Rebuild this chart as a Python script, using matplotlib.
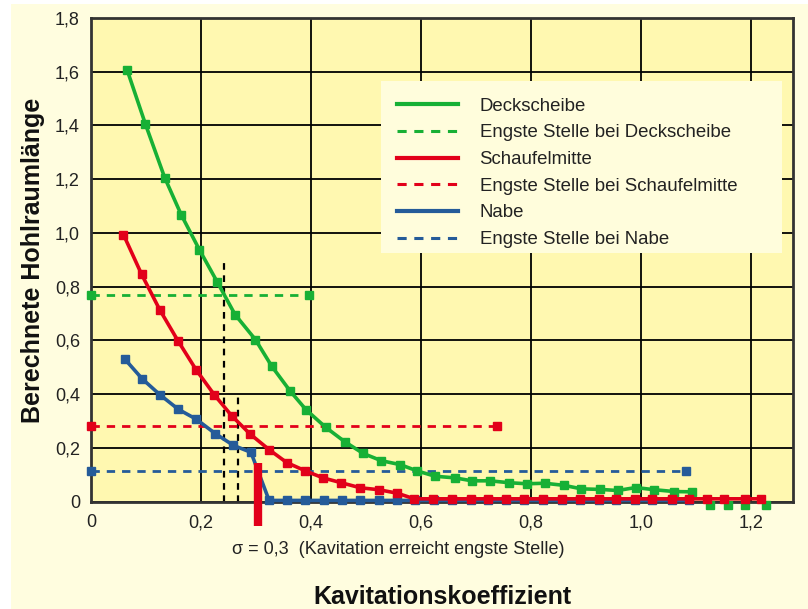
import matplotlib
matplotlib.use('Agg')
import matplotlib.pyplot as plt
from matplotlib.patches import Rectangle

# Deckscheibe (shroud)
deck_x = [0.066, 0.099, 0.134, 0.164, 0.197, 0.230, 0.262, 0.299, 0.329, 0.362,
          0.391, 0.427, 0.462, 0.495, 0.528, 0.563, 0.593, 0.626, 0.662, 0.693,
          0.726, 0.760, 0.793, 0.825, 0.861, 0.892, 0.926, 0.958, 0.991, 1.024,
          1.061, 1.093]
deck_y = [1.605, 1.405, 1.206, 1.068, 0.938, 0.816, 0.696, 0.603, 0.503, 0.412,
          0.342, 0.276, 0.222, 0.179, 0.152, 0.137, 0.114, 0.094, 0.088, 0.077,
          0.077, 0.070, 0.066, 0.068, 0.060, 0.047, 0.045, 0.041, 0.052, 0.044,
          0.037, 0.036]
# points beyond the end of the green curve
deck_tail_x = [1.126, 1.159, 1.190, 1.227]
deck_tail_y = [-0.012, -0.012, -0.012, -0.012]

# Schaufelmitte (blade middle)
mitte_x = [0.059, 0.092, 0.125, 0.158, 0.191, 0.224, 0.256, 0.289, 0.324, 0.356,
           0.390, 0.422, 0.455, 0.490, 0.523, 0.557, 0.588, 0.622, 0.656, 0.692,
           0.722, 0.755, 0.788, 0.823, 0.856, 0.889, 0.925, 0.955, 0.989, 1.021,
           1.057, 1.087, 1.120, 1.151, 1.189, 1.219]
mitte_y = [0.994, 0.846, 0.714, 0.599, 0.491, 0.398, 0.319, 0.252, 0.193, 0.145,
           0.114, 0.088, 0.070, 0.051, 0.044, 0.031, 0.010, 0.010, 0.010, 0.010,
           0.010, 0.010, 0.010, 0.010, 0.010, 0.010, 0.010, 0.010, 0.010, 0.010,
           0.010, 0.010, 0.010, 0.010, 0.010, 0.010]

# Nabe (hub)
nabe_x = [0.062, 0.093, 0.125, 0.159, 0.191, 0.226, 0.259, 0.291, 0.324, 0.357,
          0.390, 0.424, 0.456, 0.490, 0.523, 0.556, 0.590, 0.624, 0.656, 0.692,
          0.722, 0.755, 0.788, 0.823, 0.856, 0.889, 0.925, 0.955, 0.989, 1.021,
          1.057, 1.087]
nabe_y = [0.529, 0.457, 0.398, 0.343, 0.307, 0.253, 0.209, 0.183, 0.004, 0.004,
          0.004, 0.004, 0.004, 0.004, 0.004, 0.004, 0.004, 0.004, 0.004, 0.004,
          0.004, 0.004, 0.004, 0.004, 0.004, 0.004, 0.004, 0.004, 0.004, 0.004,
          0.004, 0.004]

# narrowest section levels (start/end, level)
engste_deck = ([0.0, 0.397], 0.770)
engste_mitte = ([0.0, 0.739], 0.281)
engste_nabe = ([0.0, 1.083], 0.114)

# black dashed helper verticals (x, height)
helper_x = [0.242, 0.267]
helper_top = [0.892, 0.407]
sigma_mark = 0.304

x_ticks = [0, 0.2, 0.4, 0.6, 0.8, 1.0, 1.2]
y_ticks = [0, 0.2, 0.4, 0.6, 0.8, 1.0, 1.2, 1.4, 1.6, 1.8]

green = '#17b035'
red = '#e2001a'
blue = '#255b99'

plt.rcParams['font.family'] = ['Liberation Sans', 'DejaVu Sans']

fig = plt.figure(figsize=(8.08, 6.09), dpi=100, facecolor='white')
fig.patches.append(Rectangle((11 / 808, 0), 1, 1 - 4 / 609, transform=fig.transFigure,
                             facecolor='#fffddf', edgecolor='none', zorder=-10))
ax = fig.add_axes([91 / 808, 1 - 501.5 / 609, (793 - 91) / 808, (501.5 - 18) / 609])
ax.set_facecolor('#fff8b0')

ax.set_xlim(0, 1.277)
ax.set_ylim(0, 1.8)
ax.set_xticks(x_ticks)
ax.set_yticks(y_ticks)
ax.set_xticklabels(['0' if v == 0 else f'{v:.1f}'.replace('.', ',') for v in x_ticks], fontsize=13)
ax.set_yticklabels(['0' if v == 0 else f'{v:.1f}'.replace('.', ',') for v in y_ticks], fontsize=13)
ax.tick_params(length=0, colors='#222222')
ax.tick_params(axis='x', pad=9)
ax.tick_params(axis='y', pad=8)
ax.grid(True, color='black', linewidth=1.3)
ax.set_axisbelow(True)
for s in ax.spines.values():
    s.set_color('#333333')
    s.set_linewidth(2)

ms = 6.3
# helpers
for hx, ht in zip(helper_x, helper_top):
    ax.plot([hx, hx], [0, ht], color='black', linestyle=(0, (3, 2.5)), linewidth=1.6, zorder=2)
ax.plot([sigma_mark, sigma_mark], [0.144, -0.093], color=red, linewidth=6,
        solid_capstyle='butt', clip_on=False, zorder=6)

# dashed narrowest-section lines
for (xs, lev), c in zip([engste_deck, engste_mitte, engste_nabe], [green, red, blue]):
    ax.plot(xs, [lev, lev], color=c, linestyle=(0, (3, 2.5)), linewidth=2,
            marker='s', markersize=ms, clip_on=False, zorder=3)

ax.plot(nabe_x, nabe_y, color=blue, linewidth=2.6, marker='s', markersize=ms,
        clip_on=False, zorder=4)
ax.plot(deck_x, deck_y, color=green, linewidth=2.6, marker='s', markersize=ms,
        clip_on=False, zorder=4)
ax.plot(deck_tail_x, deck_tail_y, color=green, linestyle='none', marker='s',
        markersize=ms, clip_on=False, zorder=4)
ax.plot(mitte_x, mitte_y, color=red, linewidth=2.6, marker='s', markersize=ms,
        clip_on=False, zorder=5)

# legend box
ax.add_patch(Rectangle((0.4131, 0.514), 0.9843 - 0.4131, 0.8697 - 0.514, transform=ax.transAxes,
                       facecolor='#fffddc', edgecolor='none', zorder=6.5))
handles = [
    plt.Line2D([], [], color=green, linewidth=3),
    plt.Line2D([], [], color=green, linewidth=2.2, linestyle=(0, (3, 2.5))),
    plt.Line2D([], [], color=red, linewidth=3),
    plt.Line2D([], [], color=red, linewidth=2.2, linestyle=(0, (3, 2.5))),
    plt.Line2D([], [], color=blue, linewidth=3),
    plt.Line2D([], [], color=blue, linewidth=2.2, linestyle=(0, (3, 2.5))),
]
labels = ['Deckscheibe', 'Engste Stelle bei Deckscheibe', 'Schaufelmitte',
          'Engste Stelle bei Schaufelmitte', 'Nabe', 'Engste Stelle bei Nabe']
leg = ax.legend(handles, labels, loc='upper left', bbox_to_anchor=(0.436, 0.8354),
                fontsize=13.4, handlelength=3.3, handletextpad=1.13, labelspacing=0.52,
                borderpad=0, borderaxespad=0, frameon=False)
leg.set_zorder(7)
for t in leg.get_texts():
    t.set_color('#222222')

fig.text(398 / 808, 1 - 549 / 609, '\u03c3 = 0,3  (Kavitation erreicht engste Stelle)',
         fontsize=13, color='#222222', ha='center', va='center')
fig.text(442 / 808, 1 - 597 / 609, 'Kavitationskoeffizient', fontsize=18, fontweight='bold',
         color='#111111', ha='center', va='center')
fig.text(33 / 808, 1 - 260 / 609, 'Berechnete Hohlraumlänge', fontsize=18, fontweight='bold',
         color='#111111', ha='center', va='center', rotation=90)

fig.savefig('out.png', dpi=100, facecolor=fig.get_facecolor())
